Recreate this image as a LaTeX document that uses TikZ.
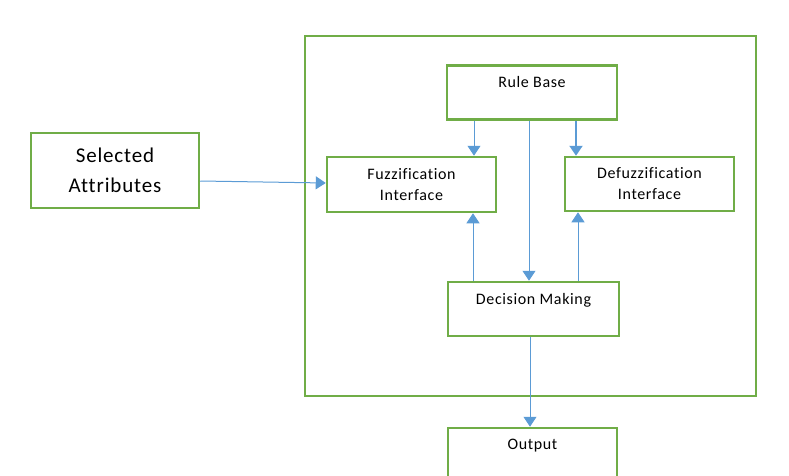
\documentclass[tikz,border=0pt]{standalone}
\usepackage{fontspec}
\setmainfont{Carlito}[Ligatures=NoCommon, LetterSpace=4]
\usetikzlibrary{arrows.meta,positioning,calc}
\definecolor{boxgreen}{HTML}{70AD47}
\definecolor{linkblue}{HTML}{5B9BD5}

\begin{document}
\begin{tikzpicture}[
	x=1pt, y=-1pt,
	block/.style = {shape=rectangle, draw=boxgreen, line width=2.5pt,
	align=center, inner sep=0pt, minimum width=170pt, minimum height=54pt,
	font=\fontsize{16}{21}\selectfont},
	frame/.style = {shape=rectangle, draw=boxgreen, line width=1.5pt,
	minimum width=451pt, minimum height=360pt, inner sep=0pt},
	link/.style = {-{Triangle[width=13pt,length=10pt]}, draw=linkblue, line width=1pt}
]
\useasboundingbox (0,0) rectangle (789,476);

% outer system frame
\node[frame] (system) at (530.5,216) {};

% blocks
\node[block] (rulebase) at (532,92.5) {Rule Base\\ \mbox{}};
\node[block, minimum width=169pt, minimum height=55pt] (fuzz) at (411.5,184.5) {Fuzzification\\Interface};
\node[block, minimum width=169pt] (defuzz) at (649.5,184) {Defuzzification\\Interface};
\node[block, minimum width=171pt] (decision) at (533.5,309) {Decision Making\\ \mbox{}};
\node[block, minimum width=169pt] (output) at (532.5,455) {Output\\ \mbox{}};
\node[block, minimum width=168pt, minimum height=75pt,
	font=\fontsize{21}{30}\selectfont] (attributes) at (115,170.5) {Selected\\Attributes};

% connectors
\draw[link] ([yshift=-10.5pt]attributes.east) -- ([yshift=1.5pt]fuzz.west);
\draw[link] ([xshift=-58pt]rulebase.south) -- ([xshift=-58pt]rulebase.south |- fuzz.north);
\draw[link, line width=2pt] ([xshift=44pt]rulebase.south) -- ([xshift=44pt]rulebase.south |- defuzz.north);
\draw[link] ([xshift=-3pt]rulebase.south) -- ([xshift=-3pt]rulebase.south |- decision.north);
\draw[link] ([xshift=-60.5pt]decision.north) -- ([xshift=-60.5pt]decision.north |- fuzz.south);
\draw[link] ([xshift=44.5pt]decision.north) -- ([xshift=44.5pt]decision.north |- defuzz.south);
\draw[link] ([xshift=-3.5pt]decision.south) -- ([xshift=-3.5pt]decision.south |- output.north);
\end{tikzpicture}
\end{document}
